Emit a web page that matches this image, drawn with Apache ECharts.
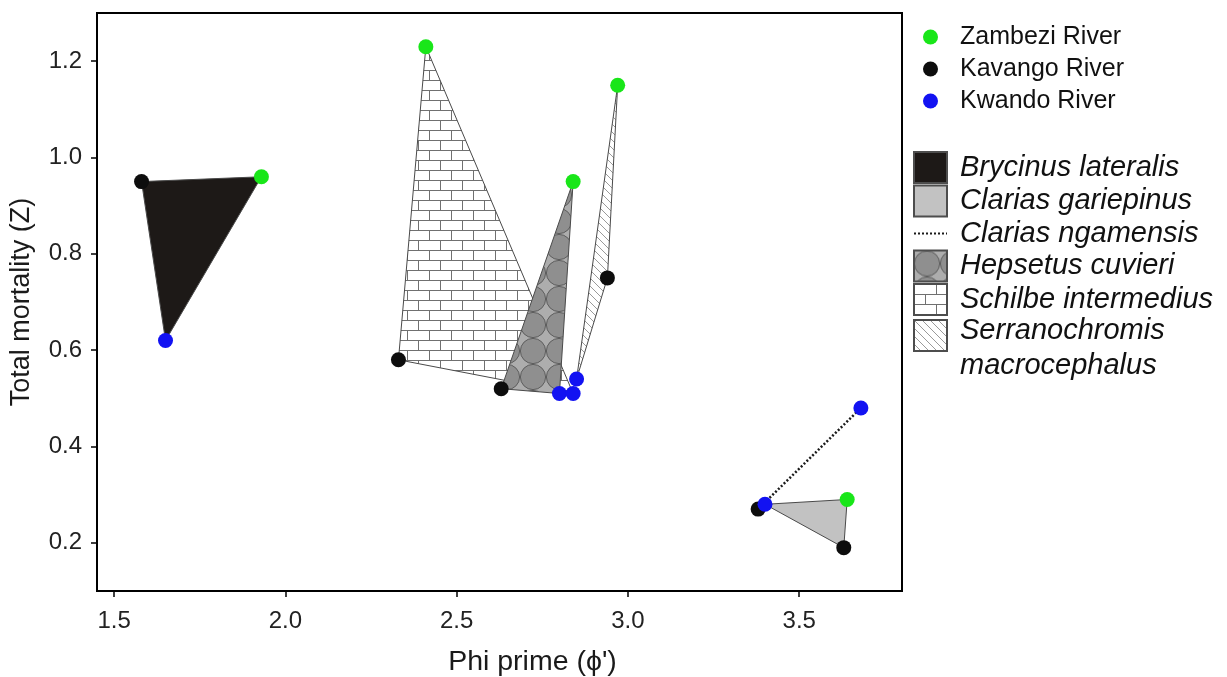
<!DOCTYPE html>
<html>
<head>
<meta charset="utf-8">
<script src="https://cdn.jsdelivr.net/npm/echarts@6/dist/echarts.min.js"></script>
<style>
  html, body { margin: 0; padding: 0; background: #ffffff; }
  #chart { width: 1227px; height: 677px; }
</style>
</head>
<body>
<div id="chart"></div>
<script>
// Species, in legend order
const species = ['Brycinus lateralis', 'Clarias gariepinus', 'Clarias ngamensis',
                 'Hepsetus cuvieri', 'Schilbe intermedius', 'Serranochromis macrocephalus'];
const rivers = ['Zambezi River', 'Kavango River', 'Kwando River'];

// Growth performance (phi prime) and total mortality (Z) per river, aligned with `species`
const zambeziPhi = [1.93, 3.64, null, 2.84, 2.41, 2.97];
const zambeziZ   = [0.96, 0.29, null, 0.95, 1.23, 1.15];
const kavangoPhi = [1.58, 3.63, 3.38, 2.63, 2.33, 2.94];
const kavangoZ   = [0.95, 0.19, 0.27, 0.52, 0.58, 0.75];
const kwandoPhi  = [1.65, 3.40, 3.68, 2.80, 2.84, 2.85];
const kwandoZ    = [0.62, 0.28, 0.48, 0.51, 0.51, 0.54];

const xTicks = [1.5, 2.0, 2.5, 3.0, 3.5];
const yTicks = [0.2, 0.4, 0.6, 0.8, 1.0, 1.2];

const FONT = '"Liberation Sans", Arial, Helvetica, sans-serif';
const riverColors = ['#19e619', '#0d0d0d', '#1212f2'];

// ---- fill patterns -------------------------------------------------------
function makeTile(w, h, draw) {
  const c = document.createElement('canvas');
  c.width = w; c.height = h;
  draw(c.getContext('2d'), w, h);
  return { image: c, repeat: 'repeat' };
}
const brickFill = makeTile(22, 20, (g, w, h) => {
  g.fillStyle = '#ffffff'; g.fillRect(0, 0, w, h);
  g.strokeStyle = '#707070'; g.lineWidth = 1;
  g.beginPath();
  g.moveTo(0, 0.5); g.lineTo(w, 0.5);
  g.moveTo(0, 10.5); g.lineTo(w, 10.5);
  g.moveTo(0.5, 0); g.lineTo(0.5, 10);
  g.moveTo(11.5, 10); g.lineTo(11.5, 20);
  g.stroke();
});
const circleFill = makeTile(26, 26, (g, w, h) => {
  g.fillStyle = '#adadad'; g.fillRect(0, 0, w, h);
  g.beginPath(); g.arc(13, 13, 12.6, 0, Math.PI * 2);
  g.fillStyle = '#8f8f8f'; g.fill();
  g.strokeStyle = '#5e5e5e'; g.lineWidth = 1; g.stroke();
});
const hatchFill = makeTile(8, 8, (g, w, h) => {
  g.fillStyle = '#ffffff'; g.fillRect(0, 0, w, h);
  g.strokeStyle = '#9a9a9a'; g.lineWidth = 1;
  g.beginPath();
  g.moveTo(-1, -1); g.lineTo(9, 9);
  g.moveTo(-1, 7); g.lineTo(1, 9);
  g.moveTo(7, -1); g.lineTo(9, 1);
  g.stroke();
});

const speciesFill = {
  'Brycinus lateralis': '#1d1917',
  'Clarias gariepinus': '#c2c2c2',
  'Hepsetus cuvieri': circleFill,
  'Schilbe intermedius': brickFill,
  'Serranochromis macrocephalus': hatchFill
};
// stacking of the species polygons (Hepsetus sits over Schilbe)
const speciesZ = {
  'Brycinus lateralis': 2, 'Clarias gariepinus': 2, 'Schilbe intermedius': 2,
  'Serranochromis macrocephalus': 2, 'Hepsetus cuvieri': 3
};

// vertices of one species across the three rivers
function speciesPoints(i) {
  const pts = [];
  [[zambeziPhi, zambeziZ], [kavangoPhi, kavangoZ], [kwandoPhi, kwandoZ]].forEach(([px, pz]) => {
    if (px[i] != null) pts.push([px[i], pz[i]]);
  });
  return pts;
}

const series = [];

species.forEach((name, i) => {
  const pts = speciesPoints(i);
  if (name === 'Clarias ngamensis') {
    series.push({
      name, type: 'line', data: pts, symbol: 'none', z: 4,
      itemStyle: { color: '#1a1a1a' },
      lineStyle: { color: '#1a1a1a', width: 2.5, type: [2, 2] },
      silent: true
    });
    return;
  }
  series.push({
    name, type: 'custom', data: pts, z: speciesZ[name],
    itemStyle: { color: speciesFill[name], borderColor: '#4d4d4d', borderWidth: 1 },
    renderItem: (params, api) => {
      if (params.dataIndex !== 0) return null;
      const poly = pts.map(p => api.coord(p));
      return {
        type: 'polygon',
        shape: { points: poly },
        style: { fill: speciesFill[name], stroke: '#4a4a4a', lineWidth: 1 }
      };
    }
  });
});

[[zambeziPhi, zambeziZ], [kavangoPhi, kavangoZ], [kwandoPhi, kwandoZ]].forEach(([px, pz], r) => {
  const data = [];
  px.forEach((v, i) => { if (v != null) data.push([v, pz[i]]); });
  series.push({
    name: rivers[r], type: 'scatter', data, z: 5,
    symbol: 'circle', symbolSize: 15,
    itemStyle: { color: riverColors[r], opacity: 1 }
  });
});

const italic = { fontSize: 29, fontStyle: 'italic', color: '#111', fontFamily: FONT };

const chart = echarts.init(document.getElementById('chart'), null, { renderer: 'canvas' });
chart.setOption({
  animation: false,
  backgroundColor: '#ffffff',
  textStyle: { fontFamily: FONT },
  grid: { left: 97, right: 325, top: 13, bottom: 86, show: true, outerBoundsMode: 'none',
          borderColor: '#000', borderWidth: 2, backgroundColor: 'transparent' },
  xAxis: {
    type: 'value', min: 1.45, max: 3.8,
    name: 'Phi prime (\u03d5\')', nameLocation: 'middle', nameGap: 57,
    nameTextStyle: { fontSize: 28.5, color: '#1a1a1a', fontFamily: FONT, padding: [0, 0, 0, 66] },
    axisLine: { show: true, lineStyle: { color: '#000', width: 2 } },
    axisTick: { show: true, inside: false, length: 6, customValues: xTicks,
                lineStyle: { color: '#000', width: 1.5 } },
    axisLabel: { customValues: xTicks, margin: 18, fontSize: 24, color: '#222',
                 fontFamily: FONT, formatter: v => v.toFixed(1) },
    splitLine: { show: false }
  },
  yAxis: {
    type: 'value', min: 0.1, max: 1.3,
    name: 'Total mortality (Z)', nameLocation: 'middle', nameGap: 62, nameRotate: 90,
    nameTextStyle: { fontSize: 27, color: '#1a1a1a', fontFamily: FONT },
    axisLine: { show: true, lineStyle: { color: '#000', width: 2 } },
    axisTick: { show: true, inside: false, length: 6, customValues: yTicks,
                lineStyle: { color: '#000', width: 1.5 } },
    axisLabel: { customValues: yTicks, margin: 15, fontSize: 24, color: '#222',
                 fontFamily: FONT, formatter: v => v.toFixed(1) },
    splitLine: { show: false }
  },
  legend: [
    {
      data: rivers, orient: 'vertical', left: 923, top: 22, padding: 0,
      itemWidth: 33, itemHeight: 15, itemGap: 2, icon: 'circle',
      textStyle: { fontSize: 25, lineHeight: 30, color: '#111', fontFamily: FONT,
                   padding: [0, 0, 0, 8] },
      selectedMode: false
    },
    {
      data: species.map(n => {
        if (n === 'Clarias ngamensis') return { name: n, itemStyle: { opacity: 0 } };
        if (n === 'Serranochromis macrocephalus') return { name: n, icon: 'rect', textStyle: { height: 31 } };
        return { name: n, icon: 'rect' };
      }),
      orient: 'vertical', left: 913, top: 151, padding: 0,
      itemWidth: 33, itemHeight: 31, itemGap: 0.5,
      formatter: n => n === 'Serranochromis macrocephalus'
        ? '{a|Serranochromis}\n{b|macrocephalus}' : n,
      textStyle: Object.assign({}, italic, {
        lineHeight: 31, padding: [0, 0, 0, 8],
        rich: {
          a: Object.assign({}, italic, { lineHeight: 22 }),
          b: Object.assign({}, italic, { lineHeight: 48 })
        }
      }),
      selectedMode: false
    }
  ],
  series
});
</script>
</body>
</html>
